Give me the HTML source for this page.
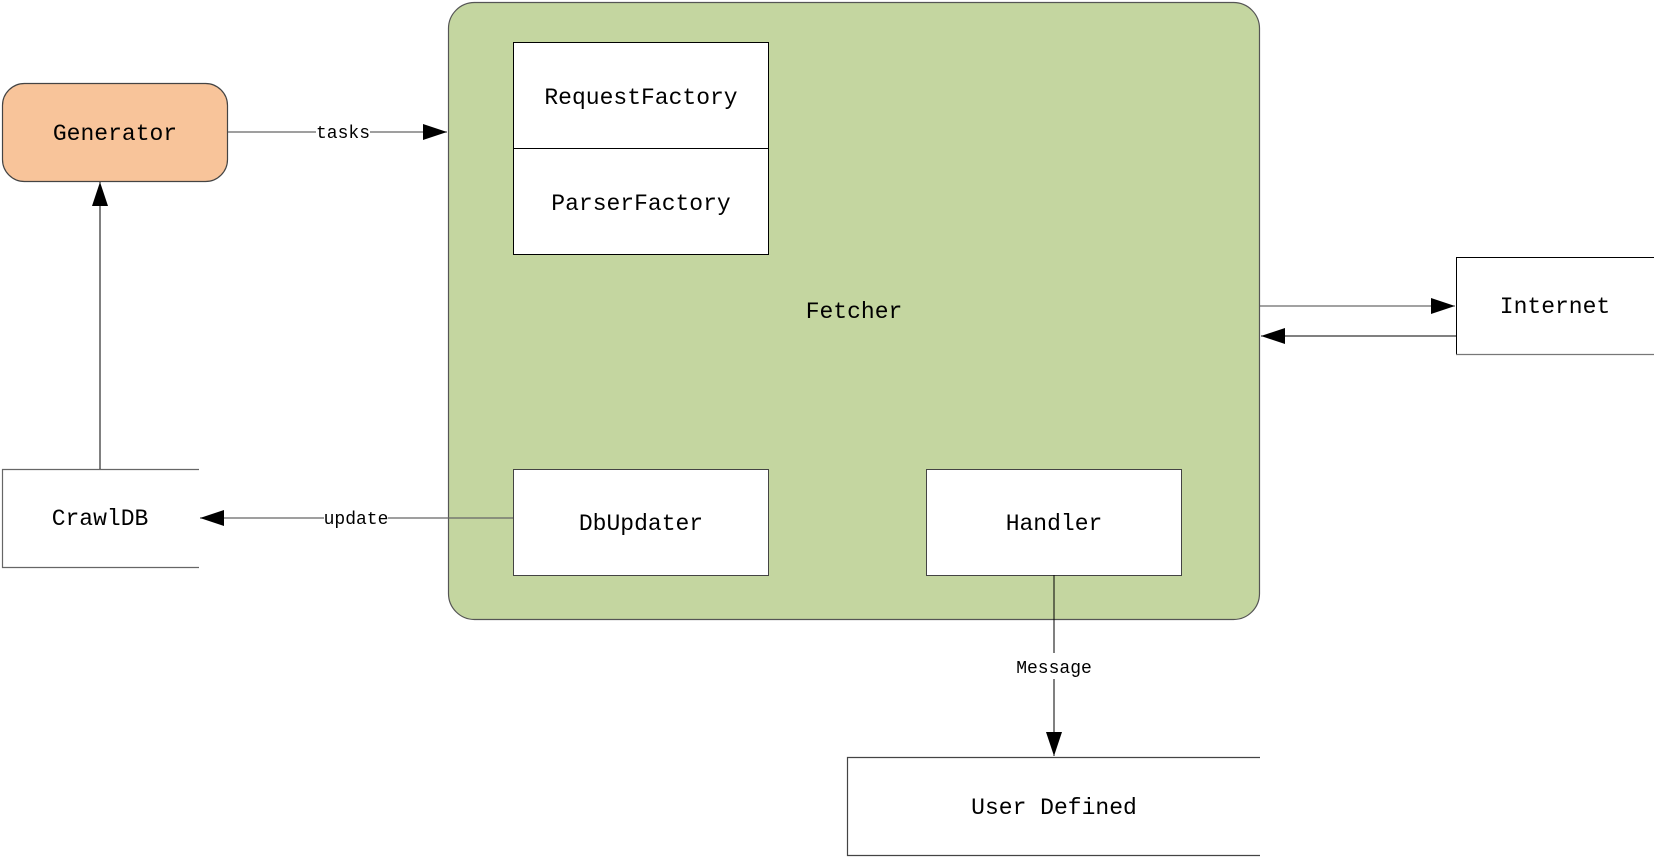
<!DOCTYPE html>
<html><head><meta charset="utf-8"><style>
html,body{margin:0;padding:0;background:#fff;}
svg text{font-family:"Liberation Mono","Noto Serif CJK SC",monospace;fill:#000;}
</style></head><body>
<svg width="1654" height="858" viewBox="0 0 1654 858" xmlns="http://www.w3.org/2000/svg">
<defs>
<marker id="a" markerWidth="24" markerHeight="16" refX="24" refY="8" orient="auto" markerUnits="userSpaceOnUse">
<path d="M0,0 L24,8 L0,16 Z" fill="#000"/></marker>
</defs>
<!-- Fetcher -->
<rect x="448.5" y="2.5" width="811" height="617" rx="26" fill="#c4d6a0" stroke="#555" stroke-width="1.2"/>
<text x="854" y="318" font-size="23" text-anchor="middle">Fetcher</text>
<!-- Request/Parser -->
<rect x="513.5" y="42.5" width="255" height="106" fill="#fff" stroke="#000" stroke-width="1"/>
<rect x="513.5" y="148.5" width="255" height="106" fill="#fff" stroke="#000" stroke-width="1"/>
<text x="641" y="104" font-size="23" text-anchor="middle">RequestFactory</text>
<text x="641" y="210" font-size="23" text-anchor="middle">ParserFactory</text>
<!-- DbUpdater / Handler -->
<rect x="513.5" y="469.5" width="255" height="106" fill="#fff" stroke="#444" stroke-width="1"/>
<text x="641" y="530" font-size="23" text-anchor="middle">DbUpdater</text>
<rect x="926.5" y="469.5" width="255" height="106" fill="#fff" stroke="#444" stroke-width="1"/>
<text x="1054" y="530" font-size="23" text-anchor="middle">Handler</text>
<!-- Generator -->
<rect x="2.5" y="83.5" width="225" height="98" rx="22" fill="#f8c49a" stroke="#444" stroke-width="1.2"/>
<text x="115" y="140" font-size="23" text-anchor="middle">Generator</text>
<!-- tasks -->
<line x1="228" y1="132" x2="447" y2="132" stroke="#666" stroke-width="1.2" marker-end="url(#a)"/>
<rect x="316" y="122" width="54" height="20" fill="#fff"/>
<text x="343" y="138" font-size="18" text-anchor="middle">tasks</text>
<!-- CrawlDB -->
<path d="M199,469.5 H2.5 V567.5 H199" fill="#fff" stroke="#666" stroke-width="1.2"/>
<text x="100" y="525" font-size="23" text-anchor="middle">CrawlDB</text>
<line x1="100" y1="469" x2="100" y2="182" stroke="#000" stroke-width="1" marker-end="url(#a)"/>
<!-- update -->
<line x1="513" y1="518" x2="200" y2="518" stroke="#666" stroke-width="1.2" marker-end="url(#a)"/>
<rect x="324" y="508" width="64" height="20" fill="#fff"/>
<text x="356" y="524" font-size="18" text-anchor="middle">update</text>
<!-- Internet -->
<path d="M1654,257.5 H1456.5 V354.5 H1654" fill="#fff" stroke="#000" stroke-width="1"/>
<line x1="1456" y1="354.5" x2="1654" y2="354.5" stroke="#777" stroke-width="1.2"/>
<text x="1555" y="313" font-size="23" text-anchor="middle">Internet</text>
<line x1="1260" y1="306" x2="1455" y2="306" stroke="#444" stroke-width="1" marker-end="url(#a)"/>
<line x1="1456" y1="336" x2="1261" y2="336" stroke="#000" stroke-width="1" marker-end="url(#a)"/>
<!-- Message -->
<line x1="1054" y1="575" x2="1054" y2="756" stroke="#000" stroke-width="1" marker-end="url(#a)"/>
<rect x="1012" y="653" width="84" height="26" fill="#fff"/>
<text x="1054" y="673" font-size="18" text-anchor="middle">Message</text>
<!-- User Defined -->
<path d="M1260,757.5 H847.5 V855.5 H1260" fill="#fff" stroke="#444" stroke-width="1.2"/>
<text x="1054" y="814" font-size="23" text-anchor="middle">User Defined</text>
</svg>
</body></html>
